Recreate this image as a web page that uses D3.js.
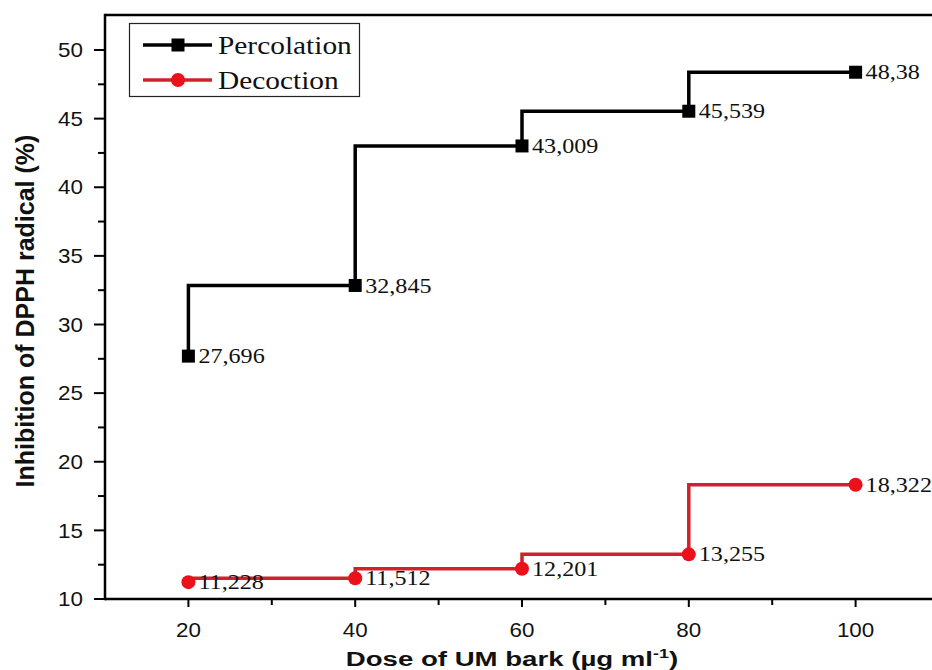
<!DOCTYPE html>
<html>
<head>
<meta charset="utf-8">
<script src="https://cdn.jsdelivr.net/npm/d3@7"></script>
<style>
  body { margin: 0; background: #fff; }
  svg { display: block; }
</style>
</head>
<body>
<svg id="vis"></svg>
<script>
// data
const doses = [20, 40, 60, 80, 100];
const percolation = [27.696, 32.845, 43.009, 45.539, 48.38];
const decoction = [11.228, 11.512, 12.201, 13.255, 18.322];
const percolationLabels = ["27,696", "32,845", "43,009", "45,539", "48,38"];
const decoctionLabels = ["11,228", "11,512", "12,201", "13,255", "18,322"];
const xTicks = [20, 40, 60, 80, 100];
const xMinorTicks = [30, 50, 70, 90, 110];
const yTicks = [10, 15, 20, 25, 30, 35, 40, 45, 50];
const yMinorTicks = [12.5, 17.5, 22.5, 27.5, 32.5, 37.5, 42.5, 47.5];

const width = 932, height = 670;
const plotLeft = 105, plotTop = 15, plotBottom = 599;
const sans = "Liberation Sans, Arial, sans-serif";
const serif = "Liberation Serif, Times New Roman, serif";

const svg = d3.select("#vis")
    .attr("width", width)
    .attr("height", height);

const x = d3.scaleLinear().domain([10, 110]).range([plotLeft, plotLeft + 834]);
const y = d3.scaleLinear().domain([10, 52.55]).range([plotBottom, plotTop]);

const redLine = "#d0222a";
const redDot = "#ea111b";

// the figure's text looks stretched sideways, so widen it a little
function wideText(parent, px, py, sx, anchor) {
    return parent.append("text")
        .attr("transform", "translate(" + px + "," + py + ") scale(" + sx + ",1)")
        .attr("text-anchor", anchor || "start")
        .attr("fill", "#111");
}

// frame top line
svg.append("line")
    .attr("x1", plotLeft).attr("x2", width)
    .attr("y1", plotTop).attr("y2", plotTop)
    .attr("stroke", "#000").attr("stroke-width", 2.5);

// x axis
const xAxis = svg.append("g")
    .attr("transform", "translate(0," + plotBottom + ")");
xAxis.append("line")
    .attr("x1", plotLeft).attr("x2", width)
    .attr("stroke", "#000").attr("stroke-width", 2.5);
xAxis.selectAll(".minor")
    .data(xMinorTicks)
    .enter().append("line")
    .attr("x1", d => x(d)).attr("x2", d => x(d))
    .attr("y1", 0).attr("y2", 6)
    .attr("stroke", "#000").attr("stroke-width", 2);
xAxis.selectAll(".major")
    .data(xTicks)
    .enter().append("line")
    .attr("x1", d => x(d)).attr("x2", d => x(d))
    .attr("y1", 0).attr("y2", 8)
    .attr("stroke", "#000").attr("stroke-width", 2);
xTicks.forEach(d => {
    wideText(xAxis, x(d), 38, 1.12, "middle")
        .attr("font-family", sans)
        .attr("font-size", "20px")
        .text(d);
});

// y axis
const yAxis = svg.append("g")
    .attr("transform", "translate(" + plotLeft + ",0)");
yAxis.append("line")
    .attr("y1", plotTop - 1.25).attr("y2", plotBottom + 1.25)
    .attr("stroke", "#000").attr("stroke-width", 2.5);
yAxis.selectAll(".minor")
    .data(yMinorTicks)
    .enter().append("line")
    .attr("y1", d => y(d)).attr("y2", d => y(d))
    .attr("x1", 0).attr("x2", -7)
    .attr("stroke", "#000").attr("stroke-width", 2);
yAxis.selectAll(".major")
    .data(yTicks)
    .enter().append("line")
    .attr("y1", d => y(d)).attr("y2", d => y(d))
    .attr("x1", 0).attr("x2", -11)
    .attr("stroke", "#000").attr("stroke-width", 2);
yTicks.forEach(d => {
    wideText(yAxis, -22, y(d), 1.12, "end")
        .attr("dy", "0.36em")
        .attr("font-family", sans)
        .attr("font-size", "20px")
        .text(d);
});

// axis titles
svg.append("text")
    .attr("transform", "translate(34,311) rotate(-90)")
    .attr("text-anchor", "middle")
    .attr("font-family", sans)
    .attr("font-size", "25px")
    .attr("font-weight", "bold")
    .attr("fill", "#111")
    .text("Inhibition of DPPH radical (%)");

const xTitle = wideText(svg, 512, 666, 1.38, "middle")
    .attr("font-family", sans)
    .attr("font-size", "20px")
    .attr("font-weight", "bold");
xTitle.append("tspan").text("Dose of UM bark (µg ml");
xTitle.append("tspan").attr("dy", -8).attr("font-size", "13px").text("-1");
xTitle.append("tspan").attr("dy", 8).text(")");

// step lines
const stepLine = d3.line()
    .x(d => x(d[0]))
    .y(d => y(d[1]))
    .curve(d3.curveStepBefore);

const series = [
    { name: "Percolation", values: percolation, labels: percolationLabels, color: "#000", fill: "#000", marker: "square" },
    { name: "Decoction", values: decoction, labels: decoctionLabels, color: redLine, fill: redDot, marker: "circle" }
];

series.forEach(s => {
    const pts = doses.map((d, i) => [d, s.values[i], s.labels[i]]);
    svg.append("path")
        .datum(pts)
        .attr("d", stepLine)
        .attr("fill", "none")
        .attr("stroke", s.color)
        .attr("stroke-width", 3.5);

    if (s.marker === "square") {
        svg.selectAll(".sq")
            .data(pts)
            .enter().append("rect")
            .attr("x", d => x(d[0]) - 6.5)
            .attr("y", d => y(d[1]) - 6.5)
            .attr("width", 13).attr("height", 13)
            .attr("fill", s.fill);
    } else {
        svg.selectAll(".ci")
            .data(pts)
            .enter().append("circle")
            .attr("cx", d => x(d[0]))
            .attr("cy", d => y(d[1]))
            .attr("r", 7)
            .attr("fill", s.fill);
    }

    pts.forEach(d => {
        wideText(svg, x(d[0]) + 10, y(d[1]), 1.15)
            .attr("dy", "0.34em")
            .attr("font-family", serif)
            .attr("font-size", "21px")
            .text(d[2]);
    });
});

// legend
const legend = svg.append("g");
legend.append("rect")
    .attr("x", 129.5).attr("y", 23.5)
    .attr("width", 230).attr("height", 73)
    .attr("fill", "#fff")
    .attr("stroke", "#222").attr("stroke-width", 1.2);

series.forEach((s, i) => {
    const ly = 45 + i * 35;
    legend.append("line")
        .attr("x1", 143).attr("x2", 212)
        .attr("y1", ly).attr("y2", ly)
        .attr("stroke", s.color).attr("stroke-width", 3.5);
    if (s.marker === "square") {
        legend.append("rect")
            .attr("x", 171.5).attr("y", ly - 6.5)
            .attr("width", 13).attr("height", 13)
            .attr("fill", s.fill);
    } else {
        legend.append("circle")
            .attr("cx", 178).attr("cy", ly)
            .attr("r", 7)
            .attr("fill", s.fill);
    }
    wideText(legend, 218, ly + 8.5, 1.13)
        .attr("font-family", serif)
        .attr("font-size", "26px")
        .text(s.name);
});
</script>
</body>
</html>
